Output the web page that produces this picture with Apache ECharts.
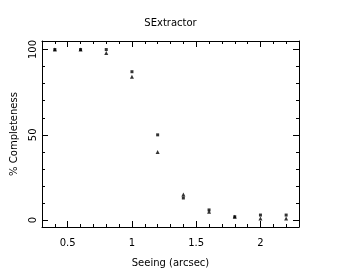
<!DOCTYPE html>
<html><head><meta charset="utf-8">
<script src="https://cdn.jsdelivr.net/npm/echarts@6/dist/echarts.min.js"></script>
<style>html,body{margin:0;padding:0;background:#fff}#c{width:341px;height:273px}</style>
</head><body><div id="c"></div>
<script>
var seeing = [0.4, 0.6, 0.8, 1.0, 1.2, 1.4, 1.6, 1.8, 2.0, 2.2];
var squareVals = [100, 100, 100, 87, 50, 13, 6, 2, 3, 3];
var triangleVals = [100, 100, 98, 84, 40, 15, 5, 2, 1, 1];
var xMajor = [0.5, 1, 1.5, 2];
var xMinor = [0.3, 0.4, 0.6, 0.7, 0.8, 0.9, 1.1, 1.2, 1.3, 1.4, 1.6, 1.7, 1.8, 1.9, 2.1, 2.2, 2.3];
var yMajor = [0, 50, 100];
var yMinor = [10, 20, 30, 40, 60, 70, 80, 90];

var FONT = 'DejaVu Sans';
var black = '#000';
function xAx(pos, ticks, len, labels, line) {
  return {
    type: 'value', position: pos, min: 0.3, max: 2.3,
    axisLine: {show: line, onZero: false, lineStyle: {color: black, width: 1}},
    axisTick: {show: true, inside: true, length: len, customValues: ticks, lineStyle: {color: black}},
    axisLabel: {show: labels, customValues: ticks, color: black, fontFamily: FONT, fontSize: 10, margin: 11,
      formatter: function (v) { return String(+v.toFixed(2)); }},
    splitLine: {show: false}
  };
}
function yAx(pos, ticks, len, labels, line) {
  return {
    type: 'value', position: pos, min: -4, max: 105,
    axisLine: {show: line, onZero: false, lineStyle: {color: black, width: 1}},
    axisTick: {show: true, inside: true, length: len, customValues: ticks, lineStyle: {color: black}},
    axisLabel: {show: labels, customValues: ticks, color: black, fontFamily: FONT, fontSize: 10, rotate: 90, margin: 4},
    splitLine: {show: false}
  };
}
var xAxes = [xAx('bottom', xMajor, 6, true, true), xAx('bottom', xMinor, 3, false, false),
             xAx('top', xMajor, 6, false, true), xAx('top', xMinor, 3, false, false)];
xAxes[0].name = 'Seeing (arcsec)';
xAxes[0].nameLocation = 'middle';
xAxes[0].nameGap = 31;
xAxes[0].nameTextStyle = {color: black, fontFamily: FONT, fontSize: 10};
var yAxes = [yAx('left', yMajor, 6, true, true), yAx('left', yMinor, 3, false, false),
             yAx('right', yMajor, 6, false, true), yAx('right', yMinor, 3, false, false)];
yAxes[0].name = '% Completeness';
yAxes[0].nameLocation = 'middle';
yAxes[0].nameGap = 23;
yAxes[0].nameTextStyle = {color: black, fontFamily: FONT, fontSize: 10};

var chart = echarts.init(document.getElementById('c'), null, {renderer: 'canvas'});
chart.setOption({
  backgroundColor: '#fff',
  animation: false,
  title: {text: 'SExtractor', left: 'center', top: 13,
    textStyle: {color: black, fontFamily: FONT, fontSize: 10, fontWeight: 'normal'}},
  grid: {left: 42, right: 42, top: 41, bottom: 43},
  xAxis: xAxes,
  yAxis: yAxes,
  series: [
    {type: 'scatter', symbol: 'rect', symbolSize: 3, itemStyle: {color: black},
      data: seeing.map(function (s, i) { return [s, squareVals[i]]; })},
    {type: 'scatter', symbol: 'triangle', symbolSize: 4, itemStyle: {color: black},
      data: seeing.map(function (s, i) { return [s, triangleVals[i]]; })}
  ]
});
</script></body></html>
